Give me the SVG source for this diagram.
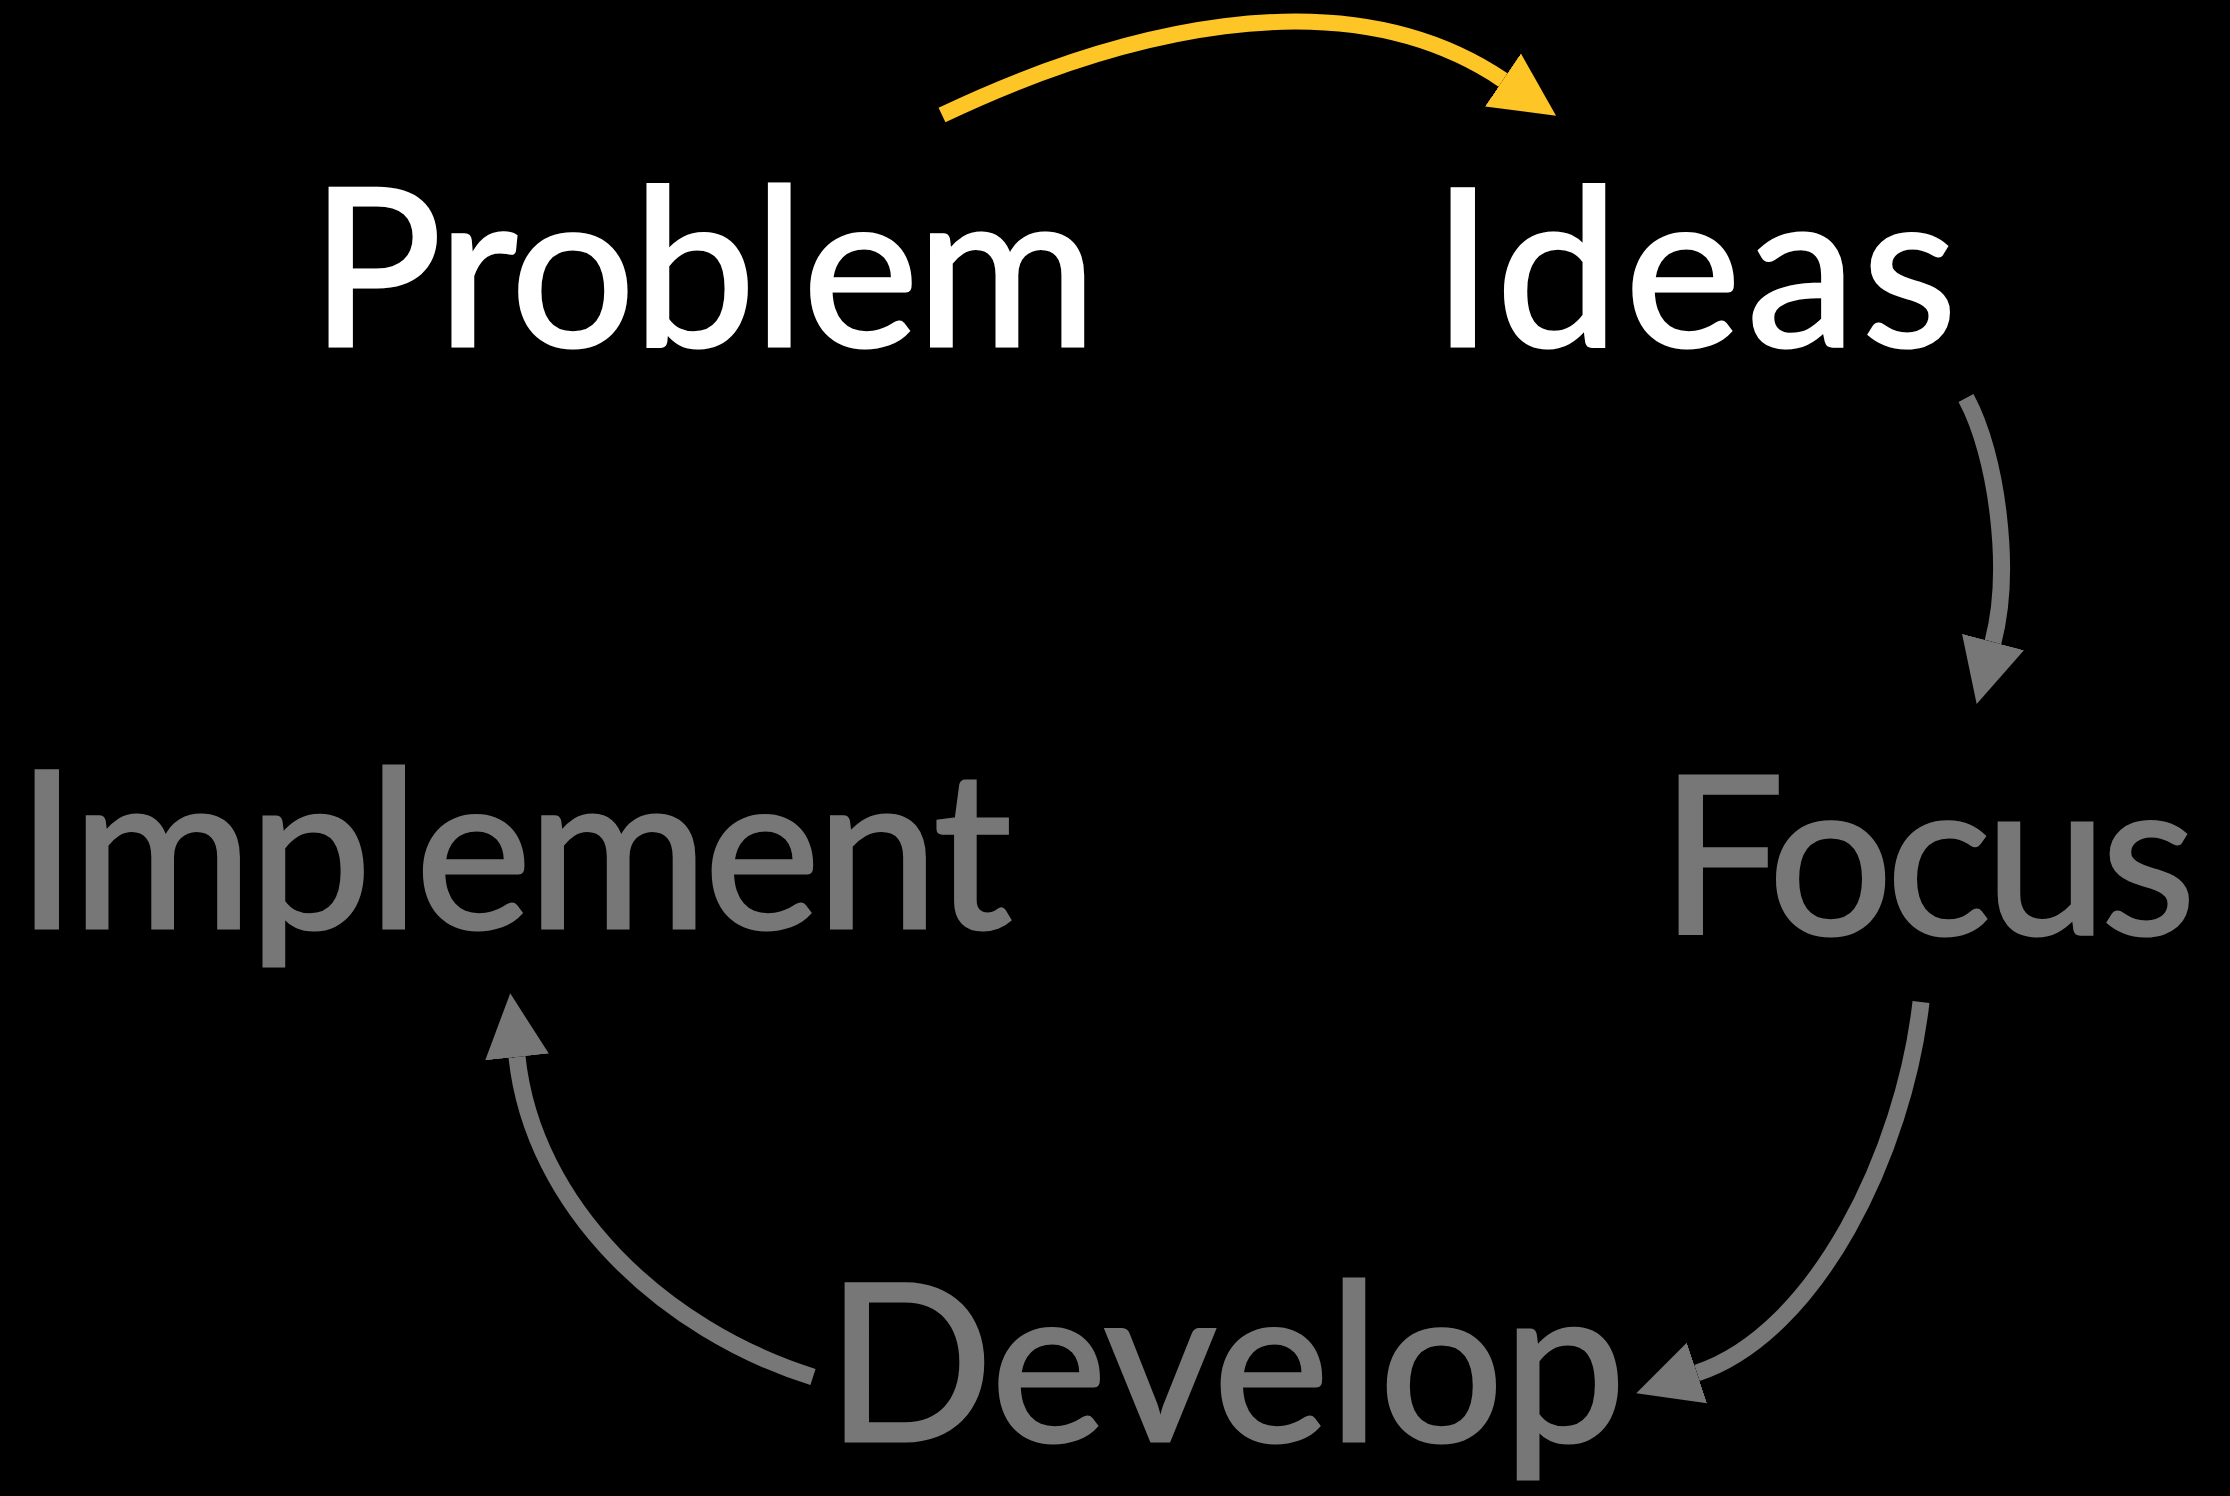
<svg xmlns="http://www.w3.org/2000/svg" width="2230" height="1496" viewBox="0 0 2230 1496">
  <style>
    .lbl { font-family: Lato, "Noto Sans", "DejaVu Sans", sans-serif; font-size: 220px; stroke-width: 3; stroke-linejoin: miter; }
    .white { fill: #ffffff; stroke: #ffffff; }
    .gray { fill: #777777; stroke: #777777; }
    .conn { fill: none; stroke-linecap: butt; }
    .conn-y { stroke: #fdc526; stroke-width: 16; marker-end: url(#head-y); }
    .conn-g { stroke: #777777; stroke-width: 17; marker-end: url(#head-g); }
  </style>
  <defs>
    <marker id="head-y" markerUnits="userSpaceOnUse" viewBox="0 -32 64 64" refX="0" refY="0" markerWidth="64" markerHeight="64" orient="auto">
      <path d="M0,-32 L64,0 L0,32 Z" fill="#fdc526"/>
    </marker>
    <marker id="head-g" markerUnits="userSpaceOnUse" viewBox="0 -32 64 64" refX="0" refY="0" markerWidth="64" markerHeight="64" orient="auto">
      <path d="M0,-32 L64,0 L0,32 Z" fill="#777777"/>
    </marker>
  </defs>
  <rect x="0" y="0" width="2230" height="1496" fill="#000000"/>

  <g id="connectors">
    <path class="conn conn-y" d="M942,115 C1110,35 1340,-30 1503,80"/>
    <path class="conn conn-g" d="M1966,398 C1997,455 2012,570 1993,642"/>
    <path class="conn conn-g" d="M1921,1002 C1904,1152 1817,1333 1697,1373"/>
    <path class="conn conn-g" d="M813,1377 C663,1330 533,1207 517,1057"/>
  </g>

  <g id="node-problem">
    <text class="lbl white" x="310" y="345.5" textLength="787" lengthAdjust="spacing">Problem</text>
  </g>
  <g id="node-ideas">
    <text class="lbl white" x="1432" y="345.5" textLength="525" lengthAdjust="spacing">Ideas</text>
  </g>
  <g id="node-focus">
    <text class="lbl gray" x="1660" y="934" textLength="536" lengthAdjust="spacing">Focus</text>
  </g>
  <g id="node-develop">
    <text class="lbl gray" x="826" y="1440.5" textLength="800" lengthAdjust="spacing">Develop</text>
  </g>
  <g id="node-implement">
    <text class="lbl gray" x="16" y="927.5" textLength="996" lengthAdjust="spacing">Implement</text>
  </g>
</svg>
